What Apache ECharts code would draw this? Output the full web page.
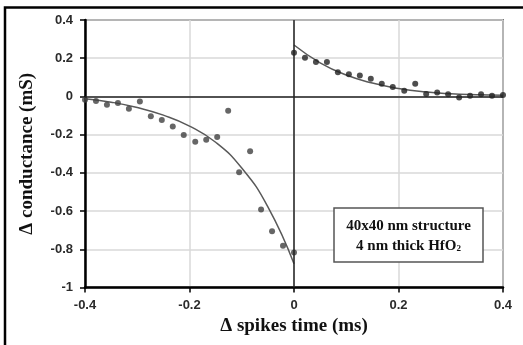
<!DOCTYPE html>
<html>
<head>
<meta charset="utf-8">
<script src="https://cdn.jsdelivr.net/npm/echarts@6/dist/echarts.min.js"></script>
<style>
html,body{margin:0;padding:0;background:#fff;}
#c{width:523px;height:345px;}
</style>
</head>
<body>
<div id="c"></div>
<script>
// Measured points, negative delay
const leftX = [-0.400,-0.379,-0.358,-0.337,-0.316,-0.295,-0.274,-0.253,-0.232,-0.211,-0.189,-0.168,-0.147,-0.126,-0.105,-0.084,-0.063,-0.042,-0.021,0.000];
const leftY = [-0.017,-0.024,-0.044,-0.034,-0.064,-0.027,-0.104,-0.123,-0.158,-0.202,-0.237,-0.227,-0.212,-0.075,-0.397,-0.287,-0.592,-0.705,-0.781,-0.817];
// Measured points, positive delay
const rightX = [0.000,0.021,0.042,0.063,0.084,0.105,0.126,0.147,0.168,0.189,0.211,0.232,0.253,0.274,0.295,0.316,0.337,0.358,0.379,0.400];
const rightY = [0.229,0.203,0.180,0.180,0.126,0.116,0.110,0.093,0.067,0.050,0.030,0.067,0.013,0.021,0.011,-0.005,0.004,0.011,0.004,0.008];
// Fitted curves
const fitLeftX = [-0.40,-0.35,-0.30,-0.25,-0.20,-0.15,-0.10,-0.05,0.00];
const fitLeftY = [-0.012,-0.030,-0.058,-0.098,-0.155,-0.240,-0.375,-0.578,-0.876];
const fitRightX = [0.00,0.05,0.10,0.15,0.20,0.25,0.30,0.35,0.40];
const fitRightY = [0.269,0.176,0.112,0.070,0.042,0.024,0.014,0.009,0.006];
// Axes
const xTicks = [-0.4,-0.2,0,0.2,0.4];
const yTicks = [-1,-0.8,-0.6,-0.4,-0.2,0,0.2,0.4];
const xTitle = 'Δ spikes time (ms)';
const yTitle = 'Δ conductance (mS)';
const noteLine1 = '40x40 nm structure';
const noteLine2 = '4 nm thick HfO';

const zip = (a,b) => a.map((v,i)=>[v,b[i]]);
const chart = echarts.init(document.getElementById('c'), null, {renderer:'canvas'});
const tickFont = {fontFamily:'Liberation Sans', fontWeight:'bold', fontSize:13, color:'#2b2b2b'};
const titleFont = {fontFamily:'Liberation Serif', fontWeight:'bold', fontSize:19, color:'#111'};
chart.setOption({
  animation:false,
  backgroundColor:'#fff',
  grid:{left:85, top:20, width:418, height:267.5, show:true, borderColor:'#111', borderWidth:1.5, backgroundColor:'transparent'},
  xAxis:{
    type:'value', min:xTicks[0], max:xTicks[xTicks.length-1], interval:0.2,
    axisLine:{onZero:false, lineStyle:{color:'#000', width:2.5}},
    axisTick:{show:true, length:5, lineStyle:{color:'#000', width:1.5}},
    splitLine:{show:true, lineStyle:{color:'#d9d9d9', width:1.5}},
    axisLabel:Object.assign({margin:11, formatter:v=>String(Math.round(v*10)/10)}, tickFont),
    name:xTitle, nameLocation:'middle', nameGap:29, nameTextStyle:titleFont
  },
  yAxis:{
    type:'value', min:yTicks[0], max:yTicks[yTicks.length-1], interval:0.2,
    axisLine:{onZero:false, lineStyle:{color:'#000', width:2.5}},
    axisTick:{show:true, length:5, lineStyle:{color:'#000', width:1.5}},
    splitLine:{show:true, lineStyle:{color:'#d9d9d9', width:1.5}},
    axisLabel:Object.assign({margin:12, formatter:v=>String(Math.round(v*10)/10)}, tickFont),
    name:yTitle, nameLocation:'middle', nameGap:48, nameTextStyle:titleFont
  },
  series:[
    {type:'line', data:zip(fitLeftX,fitLeftY), smooth:0.5, showSymbol:false, lineStyle:{color:'#595959', width:1.5}, z:3,
     markLine:{silent:true, symbol:'none', label:{show:false}, lineStyle:{color:'#222', width:1.5, type:'solid'},
       data:[{xAxis:0},{yAxis:0}]}},
    {type:'line', data:zip(fitRightX,fitRightY), smooth:0.5, showSymbol:false, lineStyle:{color:'#595959', width:1.5}, z:3},
    {type:'scatter', data:zip(leftX,leftY), symbol:'circle', symbolSize:6, itemStyle:{color:'#404040'}, z:4},
    {type:'scatter', data:zip(rightX,rightY), symbol:'circle', symbolSize:6, itemStyle:{color:'#222'}, z:4}
  ],
  graphic:[
    {type:'rect', shape:{x:5, y:7.5, width:600, height:400}, style:{fill:'none', stroke:'#000', lineWidth:2.5}, z:10},
    {type:'rect', shape:{x:334, y:208, width:149, height:54}, style:{fill:'#fff', stroke:'#555', lineWidth:1.5}, z:10},
    {type:'text', x:408.5, y:226, z:11, style:{text:noteLine1, font:'bold 15px "Liberation Serif"', fill:'#111', align:'center', verticalAlign:'middle'}},
    {type:'text', x:408.5, y:246, z:11, style:{
      text:'{a|'+noteLine2+'}{s|2}', align:'center', verticalAlign:'middle',
      rich:{a:{fontFamily:'Liberation Serif', fontWeight:'bold', fontSize:15, fill:'#111', color:'#111'},
            s:{fontFamily:'Liberation Serif', fontWeight:'bold', fontSize:9, color:'#111', fill:'#111', verticalAlign:'bottom', padding:[6,0,0,0]}}
    }}
  ]
});
</script>
</body>
</html>
